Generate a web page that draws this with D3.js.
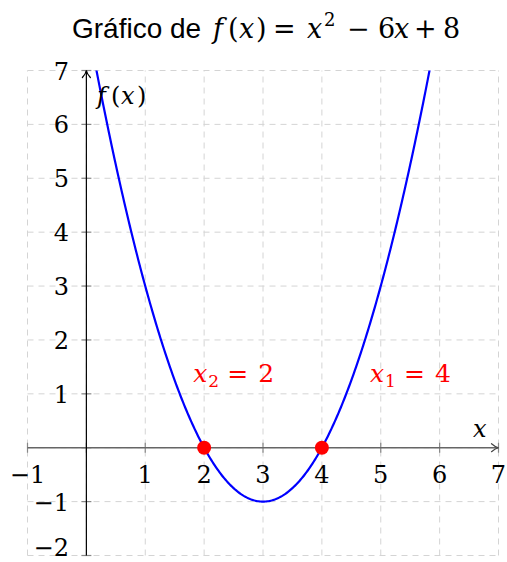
<!DOCTYPE html>
<html>
<head>
<meta charset="utf-8">
<script src="https://cdn.jsdelivr.net/npm/d3@7"></script>
<style>
  html, body { margin: 0; padding: 0; background: #fff; }
  svg { display: block; }
  .math { font-family: "DejaVu Serif", "Liberation Serif", serif; }
</style>
</head>
<body>
<svg id="chart" width="507" height="562"></svg>
<script>
// Quadratic f(x) = a x^2 + b x + c
const coeffs = [1, -6, 8];
const roots = [2, 4];
const rootNames = ["2", "1"];
const rootValues = ["2", "4"];
const xDomain = [-1, 7];
const yDomain = [-2, 7];
const xTicks = [-1, 0, 1, 2, 3, 4, 5, 6, 7];
const yTicks = [-2, -1, 0, 1, 2, 3, 4, 5, 6, 7];
const xTickLabels = ["\u22121", "", "1", "2", "3", "4", "5", "6", "7"];
const yTickLabels = ["\u22122", "\u22121", "", "1", "2", "3", "4", "5", "6", "7"];

const f = x => coeffs[0] * x * x + coeffs[1] * x + coeffs[2];

const svg = d3.select("#chart");
const x = d3.scaleLinear().domain(xDomain).range([27.5, 498.5]);
const y = d3.scaleLinear().domain(yDomain).range([555.5, 70.5]);

// Lays out a math expression piece by piece: [text, dx from start, italic?, size, dy]
function mathText(parent, x0, y0, size, color, pieces) {
  const t = parent.append("text").attr("class", "math")
    .attr("y", y0).attr("font-size", size).attr("fill", color);
  pieces.forEach(p => {
    const s = t.append("tspan").attr("x", x0 + p[1]).text(p[0]);
    if (p[2]) s.attr("font-style", "italic");
    if (p[3]) s.attr("font-size", p[3]);
    s.attr("y", y0 + (p[4] || 0));
  });
  return t;
}

// Title
svg.append("text")
  .attr("x", 72).attr("y", 38)
  .attr("font-family", "'Liberation Sans', Arial, sans-serif")
  .attr("font-size", 28).attr("fill", "#000")
  .text("Gráfico de");
mathText(svg, 213, 38, 27, "#000", [
  ["f", 0, true], ["(", 15], ["x", 26, true], [")", 43],
  ["=", 60], ["x", 94, true], ["2", 111, false, 18, -12],
  ["\u2212", 134], ["6", 165], ["x", 181, true], ["+", 201], ["8", 230]
]);

// Grid
const grid = svg.append("g")
  .attr("stroke", "#d4d4d4")
  .attr("stroke-width", 1)
  .attr("stroke-dasharray", "6,5");
grid.selectAll("line.v").data(xTicks).join("line")
  .attr("x1", d => x(d)).attr("x2", d => x(d))
  .attr("y1", y(yDomain[0])).attr("y2", y(yDomain[1]));
grid.selectAll("line.h").data(yTicks).join("line")
  .attr("y1", d => y(d)).attr("y2", d => y(d))
  .attr("x1", x(xDomain[0])).attr("x2", x(xDomain[1]));

// Tick marks
const ticks = svg.append("g").attr("stroke", "#888").attr("stroke-width", 1.2);
ticks.selectAll("line.xt").data(xTicks).join("line")
  .attr("x1", d => x(d)).attr("x2", d => x(d))
  .attr("y1", y(0) - 5).attr("y2", y(0) + 5);
ticks.selectAll("line.yt").data(yTicks).join("line")
  .attr("y1", d => y(d)).attr("y2", d => y(d))
  .attr("x1", x(0) - 5).attr("x2", x(0) + 5);

// Axes with arrow heads
function arrowHead(g, px, py, dir, color) {
  const p = dir === "right"
    ? `M${px - 7},${py - 4} Q${px - 3},${py - 0.5} ${px},${py} Q${px - 3},${py + 0.5} ${px - 7},${py + 4}`
    : `M${px - 4},${py + 7} Q${px - 0.5},${py + 3} ${px},${py} Q${px + 0.5},${py + 3} ${px + 4},${py + 7}`;
  g.append("path").attr("d", p).attr("fill", "none").attr("stroke", color)
    .attr("stroke-width", 1.2).attr("stroke-linecap", "round");
}
const axes = svg.append("g");
axes.append("line")
  .attr("x1", x(xDomain[0])).attr("x2", x(xDomain[1]))
  .attr("y1", y(0)).attr("y2", y(0))
  .attr("stroke", "#666").attr("stroke-width", 1.6);
arrowHead(axes, x(xDomain[1]), y(0), "right", "#444");
axes.append("line")
  .attr("x1", x(0)).attr("x2", x(0))
  .attr("y1", y(yDomain[0])).attr("y2", y(yDomain[1]))
  .attr("stroke", "#000").attr("stroke-width", 1.2);
arrowHead(axes, x(0), y(yDomain[1]), "up", "#000");

// Tick labels (the lowest y label is kept inside the canvas)
const lab = svg.append("g").attr("class", "math").attr("font-size", 24).attr("fill", "#000");
lab.selectAll("text.xl").data(xTicks).join("text")
  .attr("x", d => x(d)).attr("y", y(0) + 35)
  .attr("text-anchor", "middle")
  .text((d, i) => xTickLabels[i]);
lab.selectAll("text.yl").data(yTicks).join("text")
  .attr("x", 69).attr("y", d => Math.min(y(d) + 9, 556))
  .attr("text-anchor", "end")
  .text((d, i) => yTickLabels[i]);

// Curve, clipped to the plotting window
svg.append("clipPath").attr("id", "plotclip").append("rect")
  .attr("x", x(xDomain[0])).attr("y", y(yDomain[1]))
  .attr("width", x(xDomain[1]) - x(xDomain[0]))
  .attr("height", y(yDomain[0]) - y(yDomain[1]));
const xs = d3.range(0, 6.0001, 0.02);
svg.append("path")
  .attr("clip-path", "url(#plotclip)")
  .attr("d", d3.line().x(d => x(d)).y(d => y(f(d)))(xs))
  .attr("fill", "none").attr("stroke", "#0000ff").attr("stroke-width", 2.2);

// Roots
svg.selectAll("circle.root").data(roots).join("circle")
  .attr("cx", d => x(d)).attr("cy", d => y(f(d)))
  .attr("r", 7).attr("fill", "#ff0000");

// Root labels, placed above each root (x2 to the left, x1 to the right)
roots.forEach((r, i) => {
  const x0 = i === 0 ? x(r) - 11 : x(r) + 48;
  mathText(svg, x0, 382, 25, "#ff0000", [
    ["x", 0, true], [rootNames[i], 15, false, 17, 5],
    ["=", 34], [rootValues[i], 65]
  ]);
});

// Axis names
mathText(svg, 97, 104, 24, "#000", [
  ["f", 0, true], ["(", 14], ["x", 24, true], [")", 40]
]);
mathText(svg, 473, 437, 24, "#000", [["x", 0, true]]);
</script>
</body>
</html>
